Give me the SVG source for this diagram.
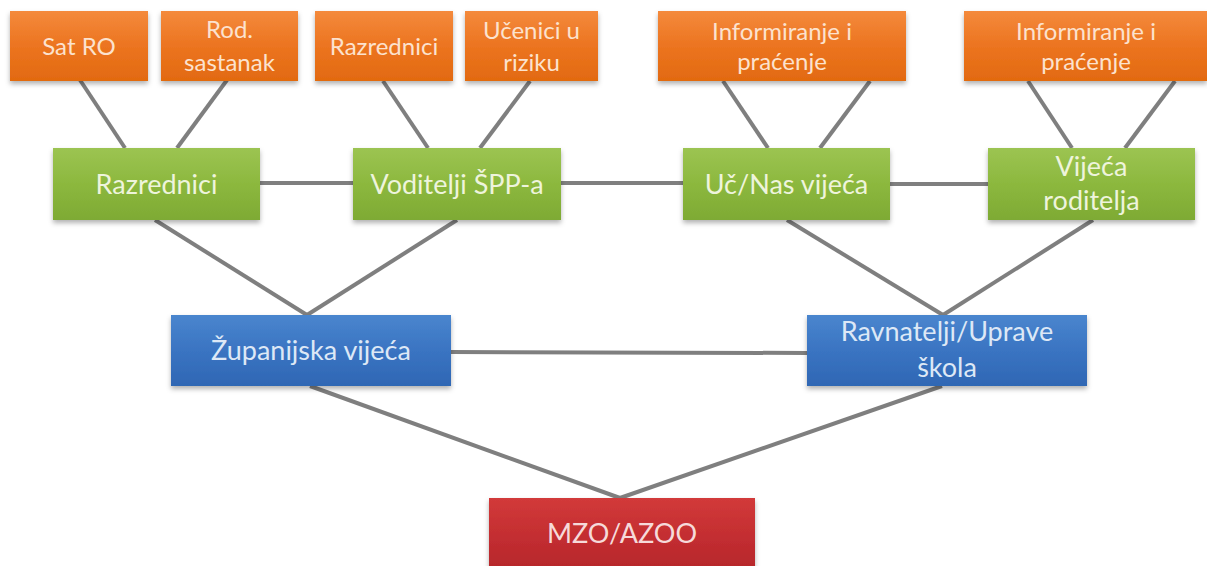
<svg xmlns="http://www.w3.org/2000/svg" width="1207" height="566" viewBox="0 0 1207 566">
<defs>
<linearGradient id="gOr" x1="0" y1="0" x2="0" y2="1"><stop offset="0" stop-color="#F48A3C"/><stop offset="0.5" stop-color="#EC7420"/><stop offset="1" stop-color="#E26A10"/></linearGradient>
<linearGradient id="gGr" x1="0" y1="0" x2="0" y2="1"><stop offset="0" stop-color="#9CC452"/><stop offset="0.5" stop-color="#8CB83E"/><stop offset="1" stop-color="#7EAA34"/></linearGradient>
<linearGradient id="gBl" x1="0" y1="0" x2="0" y2="1"><stop offset="0" stop-color="#4A86CE"/><stop offset="0.5" stop-color="#3A74C2"/><stop offset="1" stop-color="#2F67B4"/></linearGradient>
<linearGradient id="gRd" x1="0" y1="0" x2="0" y2="1"><stop offset="0" stop-color="#D23A3A"/><stop offset="0.5" stop-color="#C42E31"/><stop offset="1" stop-color="#B5272B"/></linearGradient>
<filter id="sh" x="-10%" y="-10%" width="120%" height="140%"><feDropShadow dx="0" dy="3" stdDeviation="2.5" flood-color="#000" flood-opacity="0.3"/></filter>
</defs>
<style>
.or{fill:url(#gOr);filter:url(#sh)}
.gr{fill:url(#gGr);filter:url(#sh)}
.bl{fill:url(#gBl);filter:url(#sh)}
.rd{fill:url(#gRd);filter:url(#sh)}
text{font-family:Lato,"Open Sans","DejaVu Sans",sans-serif;text-anchor:middle}
.to{font-size:24px;fill:#FCE2CE}
.tg{font-size:27px;fill:#EEF4DC}
.tb{font-size:27px;fill:#DDE8F6}
.tr{font-size:27px;fill:#F6DADA}
.ln{stroke:#7F7F7F;stroke-width:4;fill:none}
</style>
<g id="connectors">
<line class="ln" x1="80" y1="80" x2="125" y2="148"/>
<line class="ln" x1="227" y1="80" x2="177" y2="148"/>
<line class="ln" x1="383" y1="81" x2="428" y2="148"/>
<line class="ln" x1="530" y1="81" x2="480" y2="148"/>
<line class="ln" x1="723" y1="81" x2="768" y2="148"/>
<line class="ln" x1="870" y1="81" x2="820" y2="148"/>
<line class="ln" x1="1028" y1="81" x2="1072" y2="148"/>
<line class="ln" x1="1175" y1="81" x2="1125" y2="148"/>
<line class="ln" x1="260" y1="183" x2="353" y2="183"/>
<line class="ln" x1="561" y1="183" x2="683" y2="183"/>
<line class="ln" x1="890" y1="184" x2="988" y2="184"/>
<line class="ln" x1="155" y1="220" x2="307" y2="315"/>
<line class="ln" x1="457" y1="220" x2="307" y2="315"/>
<line class="ln" x1="787" y1="220" x2="943" y2="315"/>
<line class="ln" x1="1093" y1="220" x2="943" y2="315"/>
<line class="ln" x1="451" y1="352" x2="807" y2="353"/>
<line class="ln" x1="310" y1="386" x2="620" y2="498"/>
<line class="ln" x1="942" y1="386" x2="620" y2="498"/>
</g>
<g id="n-satro"><rect class="or" x="10" y="11" width="138" height="70"/><text class="to" x="79" y="55">Sat RO</text></g>
<g id="n-rod"><rect class="or" x="161" y="11" width="137" height="70"/><text class="to" x="229.5" y="38">Rod.</text><text class="to" x="229.5" y="71">sastanak</text></g>
<g id="n-razr-o"><rect class="or" x="315" y="11" width="138" height="70"/><text class="to" x="384" y="55">Razrednici</text></g>
<g id="n-ucenici"><rect class="or" x="465" y="11" width="133" height="70"/><text class="to" x="531.5" y="39">Učenici u</text><text class="to" x="531.5" y="71">riziku</text></g>
<g id="n-inf1"><rect class="or" x="658" y="11" width="248" height="70"/><text class="to" x="782" y="40">Informiranje i</text><text class="to" x="782" y="70">praćenje</text></g>
<g id="n-inf2"><rect class="or" x="964" y="11" width="243" height="70"/><text class="to" x="1086" y="40">Informiranje i</text><text class="to" x="1086" y="70">praćenje</text></g>
<g id="n-razr-g"><rect class="gr" x="53" y="148" width="207" height="72"/><text class="tg" x="156.5" y="194">Razrednici</text></g>
<g id="n-vod"><rect class="gr" x="353" y="148" width="208" height="72"/><text class="tg" x="457" y="194">Voditelji ŠPP-a</text></g>
<g id="n-ucnas"><rect class="gr" x="683" y="148" width="207" height="72"/><text class="tg" x="786.5" y="194">Uč/Nas vijeća</text></g>
<g id="n-vijroditelja"><rect class="gr" x="988" y="148" width="207" height="72"/><text class="tg" x="1091.5" y="176">Vijeća</text><text class="tg" x="1091.5" y="210">roditelja</text></g>
<g id="n-zup"><rect class="bl" x="171" y="315" width="280" height="71"/><text class="tb" x="311" y="360">Županijska vijeća</text></g>
<g id="n-ravn"><rect class="bl" x="807" y="315" width="280" height="71"/><text class="tb" x="947" y="341">Ravnatelji/Uprave</text><text class="tb" x="947" y="377">škola</text></g>
<g id="n-mzo"><rect class="rd" x="489" y="498" width="266" height="74"/><text class="tr" x="622" y="543">MZO/AZOO</text></g>
</svg>
